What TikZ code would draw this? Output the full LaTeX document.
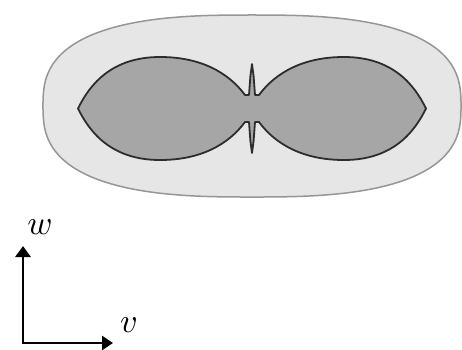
\documentclass[tikz,border=0pt]{standalone}
\usetikzlibrary{arrows.meta}
\definecolor{outerfill}{RGB}{230,230,230}
\definecolor{outerline}{RGB}{150,150,150}
\definecolor{innerfill}{RGB}{166,166,166}
\definecolor{innerline}{RGB}{45,45,45}
\tikzset{
  outerzone/.style={fill=outerfill,draw=outerline,line width=1.5pt},
  lobes/.style={fill=innerfill,draw=innerline,line width=1.8pt,line join=round},
  axis/.style={line width=2.8pt,{Triangle[length=11pt,width=15pt]}-{Triangle[length=11pt,width=14pt]}},
  axlabel/.style={inner sep=0pt}
}
\begin{document}
\begin{tikzpicture}[x=1pt,y=-1pt]
\useasboundingbox (0,0) rectangle (462,349);
% outer zone
\draw[outerzone] plot[domain=1:359,samples=180,smooth]
  ({252+209*(cos(\x)/abs(cos(\x)))*abs(cos(\x))^0.74},
   {106+91*(sin(\x)/abs(sin(\x)))*abs(sin(\x))^0.74}) -- cycle;
% lobes
\draw[lobes]
  (78,108.5) .. controls (90,84) and (112,57) .. (160,57)
  .. controls (200,57) and (228,72) .. (245,95)
  -- (249,95) -- (250.4,76) -- (252,64) -- (253.6,76) -- (255,95)
  -- (259,95)
  .. controls (276,72) and (304,57) .. (344,57)
  .. controls (392,57) and (414,84) .. (426,108.5)
  .. controls (414,133) and (392,160) .. (344,160)
  .. controls (304,160) and (276,145) .. (259,122)
  -- (255,122) -- (253.6,141) -- (252,153) -- (250.4,141) -- (249,122)
  -- (245,122)
  .. controls (228,145) and (200,160) .. (160,160)
  .. controls (112,160) and (90,133) .. (78,108.5) -- cycle;
% axes
\coordinate (wt) at (23,246);
\coordinate (o) at (23,343);
\coordinate (vt) at (113,343);
\draw[axis] (wt) -- (o) -- (vt);
\node[axlabel] (wl) at (40,227) {\scalebox{3.4}{$w$}};
\node[axlabel] (vl) at (129,325) {\scalebox{3.4}{$v$}};
\end{tikzpicture}
\end{document}
